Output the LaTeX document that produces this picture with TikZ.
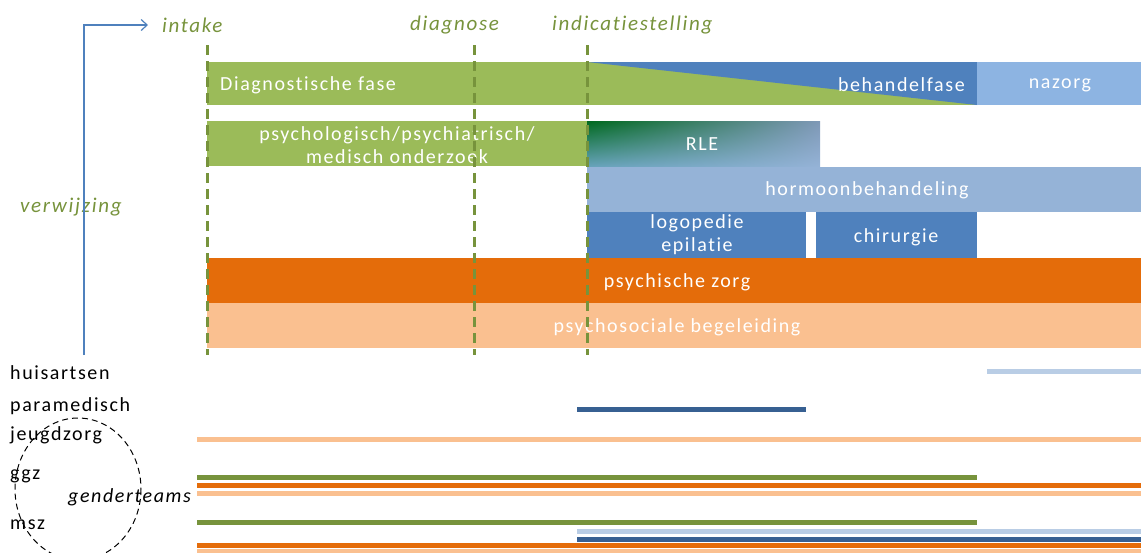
\documentclass[tikz,border=0pt]{standalone}
\usepackage{fontspec}
\setmainfont{Carlito}[LetterSpace=8,Ligatures=NoCommon]
\usetikzlibrary{arrows.meta,shadings}
\definecolor{phasegreen}{RGB}{155,187,89}
\definecolor{linegreen}{RGB}{119,147,60}
\definecolor{treatblue}{RGB}{79,129,189}
\definecolor{hormblue}{RGB}{149,179,215}
\definecolor{afterblue}{RGB}{141,180,226}
\definecolor{paleblue}{RGB}{185,205,229}
\definecolor{darkblue}{RGB}{55,96,146}
\definecolor{carorange}{RGB}{228,108,10}
\definecolor{softorange}{RGB}{250,192,144}
\definecolor{rlegreen}{RGB}{0,105,30}

\begin{document}
\begin{tikzpicture}[x=1pt,y=-1pt,
    barlabel/.style={text=white,font=\fontsize{20}{23}\selectfont,align=center,inner sep=0pt},
    milestone/.style={text=linegreen,font=\fontsize{21}{24}\selectfont\itshape,anchor=west,inner sep=0pt},
    sector/.style={font=\fontsize{20}{23}\selectfont,anchor=west,inner sep=0pt},
    phaseline/.style={linegreen,line width=3pt,dash pattern=on 10pt off 6pt},
    careline/.style={line width=5pt}]
\useasboundingbox (0,0) rectangle (1141,552);

% fasen
\fill[phasegreen] (207,62) rectangle (977,105);
\fill[treatblue] (587,62) -- (977,62) -- (977,105) -- cycle;
\fill[afterblue] (977,62) rectangle (1141,105);
\node[barlabel,anchor=west] (diagfase) at (220,85) {Diagnostische fase};
\node[barlabel,anchor=east] (behfase) at (965,85) {behandelfase};
\node[barlabel] (nazorg) at (1060,85) {nazorg};

% onderdelen
\fill[phasegreen] (207,121) rectangle (587,166);
\shade[upper left=rlegreen,upper right=hormblue!85!black,
       lower left=hormblue!70!teal,lower right=hormblue] (587,121) rectangle (820,167);
\fill[hormblue] (587,167) rectangle (1141,212);
\fill[treatblue] (587,212) rectangle (806,258);
\fill[treatblue] (816,212) rectangle (977,258);
\fill[carorange] (207,258) rectangle (1141,303);
\fill[softorange] (207,303) rectangle (1141,348);
\node[barlabel] (onderzoek) at (397,145) {psychologisch/psychiatrisch/\\medisch onderzoek};
\node[barlabel] (rle) at (702,144) {RLE};
\node[barlabel] (hormoon) at (867,190) {hormoonbehandeling};
\node[barlabel] (logo) at (697,235) {logopedie\\epilatie};
\node[barlabel] (chir) at (896,237) {chirurgie};
\node[barlabel] (pzorg) at (677,282) {psychische zorg};
\node[barlabel] (psbeg) at (677,327) {psychosociale begeleiding};

% mijlpalen
\node[milestone] (intake) at (162,25) {intake};
\node[milestone] (diagnose) at (410,25) {diagnose};
\node[milestone] (indicatie) at (552,25) {indicatiestelling};
\node[milestone] (verwijzing) at (20,207) {verwijzing};
\draw[treatblue,line width=1.2pt,-{Straight Barb[length=6pt,width=11pt]}]
  (84,355) |- ([xshift=-14pt]intake.west);
\draw[phaseline] (207,45) -- (207,355);
\draw[phaseline] (474,45) -- (474,355);
\draw[phaseline] (587,45) -- (587,355);

% zorgaanbieders
\node[sector] (huisarts) at (10,373) {huisartsen};
\node[sector] (paramed) at (10,406) {paramedisch};
\node[sector] (jeugd) at (10,435) {jeugdzorg};
\node[sector] (ggz) at (10,476) {ggz};
\node[sector] (msz) at (10,525) {msz};
\node[sector,font=\fontsize{20}{23}\selectfont\itshape] (gender) at (68,497) {genderteams};
\draw[dashed,line width=1pt,dash pattern=on 6pt off 4pt] (78,489) ellipse [x radius=63, y radius=71];

\draw[careline,paleblue] (987,371) -- (1141,371);
\draw[careline,darkblue] (577,409) -- (806,409);
\draw[careline,softorange] (197,439) -- (1141,439);
\draw[careline,linegreen] (197,477) -- (977,477);
\draw[careline,carorange] (197,485) -- (1141,485);
\draw[careline,softorange] (197,493) -- (1141,493);
\draw[careline,linegreen] (197,522) -- (977,522);
\draw[careline,paleblue] (577,531) -- (1141,531);
\draw[careline,darkblue] (577,539) -- (1141,539);
\draw[careline,carorange] (197,545) -- (1141,545);
\draw[careline,softorange] (197,551) -- (1141,551);
\end{tikzpicture}
\end{document}
